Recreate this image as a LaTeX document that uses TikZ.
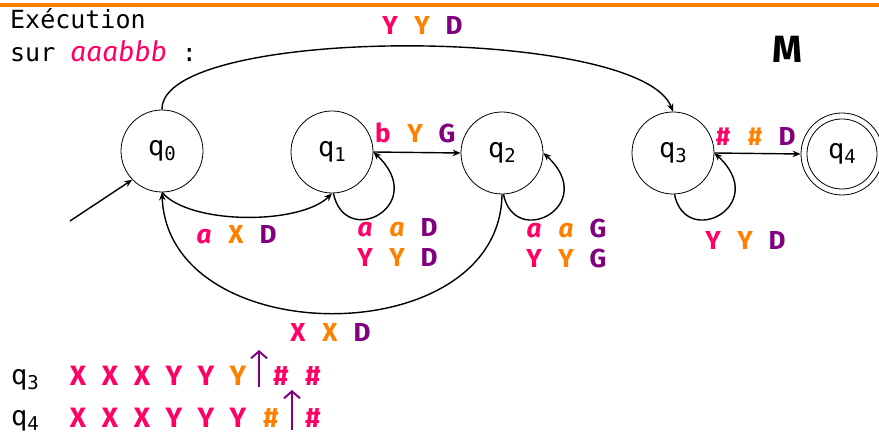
\documentclass[tikz,border=0pt]{standalone}
\usepackage{fontspec}
\setmainfont{Fira Sans}
\newfontfamily\monof{DejaVu Sans Mono}
\usetikzlibrary{arrows.meta}
\definecolor{pk}{HTML}{FF0066}
\definecolor{orn}{HTML}{FF8000}
\definecolor{pur}{HTML}{800080}
\newcommand\trio[3]{\makebox[32pt]{#1}\makebox[32pt]{#2}\makebox[32pt]{#3}}
\newcommand\qsub[1]{q\raisebox{-0.35ex}{\fontsize{19}{19}\selectfont #1}}
\newcommand\ita{{\itshape a}}
\begin{document}
\begin{tikzpicture}[x=1pt,y=-1pt,
  state/.style={circle,draw,line width=0.8pt,minimum size=82pt,inner sep=0pt,font=\monof\fontsize{27}{27}\selectfont},
  edge/.style={line width=1.4pt,-{Stealth[length=8pt,width=6.5pt]}},
  lab/.style={font=\bfseries\fontsize{26}{26}\selectfont,inner sep=0pt},
  tape/.style={font=\bfseries\fontsize{28}{28}\selectfont,inner sep=0pt},
  head/.style={pur,line width=2pt,-{Straight Barb[length=7pt,width=16pt]}},
  plain/.style={font=\monof\fontsize{25}{25}\selectfont,inner sep=0pt,anchor=base west}
]
\useasboundingbox (0,0) rectangle (879,438);
\draw[orn,line width=4pt] (0,5) -- (879,5);

\node[plain] (t1) at (10,29) {Exécution};
\node[plain] (t2) at (10,62) {sur {\color{pk}\rmfamily\itshape\fontsize{28}{28}\selectfont aaabbb} :};
\node[font=\bfseries\fontsize{38}{38}\selectfont,inner sep=0pt] (M) at (787,49) {M};

\node[state] (q0) at (162,151) {\qsub{0}};
\node[state] (q1) at (332,152) {\qsub{1}};
\node[state] (q2) at (502,153) {\qsub{2}};
\node[state] (q3) at (673,153) {\qsub{3}};
\node[state] (q4) at (842,154) {\qsub{4}};
\draw[line width=0.8pt] (q4.center) circle[radius=35];

\coordinate (ini) at (70,221);
\draw[edge] (ini) -- (q0.224);
\draw[edge] (q0.north) .. controls (160,25) and (640,25) .. (q3.north);
\draw[edge] (q0.south) .. controls (190,225) and (300,225) .. (q1.south);
\draw[edge] (q2.south) .. controls (500,353) and (168,353) .. (q0.south);
\draw[edge] (q1.-88) .. controls (345,250) and (430,205) .. (q1.east);
\draw[edge] (q2.-88) .. controls (515,250) and (600,205) .. (q2.east);
\draw[edge] (q3.-88) .. controls (686,250) and (771,205) .. (q3.east);
\draw[edge] (q1.east) -- (q2.west);
\draw[edge] (q3.east) -- (q4.west);

\node[lab] (l03) at (422,25) {\trio{\color{pk}Y}{\color{orn}Y}{\color{pur}D}};
\node[lab] (l12) at (415,133) {\trio{\color{pk}b}{\color{orn}Y}{\color{pur}G}};
\node[lab] (l01) at (236,235) {\trio{\color{pk}\ita}{\color{orn}X}{\color{pur}D}};
\node[lab] (l11a) at (397,228) {\trio{\color{pk}\ita}{\color{orn}\ita}{\color{pur}D}};
\node[lab] (l11b) at (397,257) {\trio{\color{pk}Y}{\color{orn}Y}{\color{pur}D}};
\node[lab] (l22a) at (566,228) {\trio{\color{pk}\ita}{\color{orn}\ita}{\color{pur}G}};
\node[lab] (l22b) at (566,258) {\trio{\color{pk}Y}{\color{orn}Y}{\color{pur}G}};
\node[lab] (l34) at (755,136) {\trio{\color{pk}\#}{\color{orn}\#}{\color{pur}D}};
\node[lab] (l33) at (745,240) {\trio{\color{pk}Y}{\color{orn}Y}{\color{pur}D}};
\node[lab] (l20) at (330,332) {\trio{\color{pk}X}{\color{orn}X}{\color{pur}D}};

\node[font=\monof\fontsize{27}{27}\selectfont,inner sep=0pt] (r3) at (25,380) {\qsub{3}};
\node[font=\monof\fontsize{27}{27}\selectfont,inner sep=0pt] (r4) at (25,421) {\qsub{4}};
\node[tape] (c3) at (158,376) {\trio{\color{pk}X}{\color{pk}X}{\color{pk}X}\trio{\color{pk}Y}{\color{pk}Y}{\color{orn}Y}};
\node[tape,pk] (h3a) at (281,376) {\#};
\node[tape,pk] (h3b) at (313,376) {\#};
\node[tape] (c4) at (158,418) {\trio{\color{pk}X}{\color{pk}X}{\color{pk}X}\trio{\color{pk}Y}{\color{pk}Y}{\color{pk}Y}};
\node[tape,orn] (h4a) at (271,418) {\#};
\node[tape,pk] (h4b) at (313,418) {\#};
\coordinate (a3s) at (259,387);
\coordinate (a3e) at (259,350);
\coordinate (a4s) at (292,430);
\coordinate (a4e) at (292,390);
\draw[head] (a3s) -- (a3e);
\draw[head] (a4s) -- (a4e);
\end{tikzpicture}
\end{document}
